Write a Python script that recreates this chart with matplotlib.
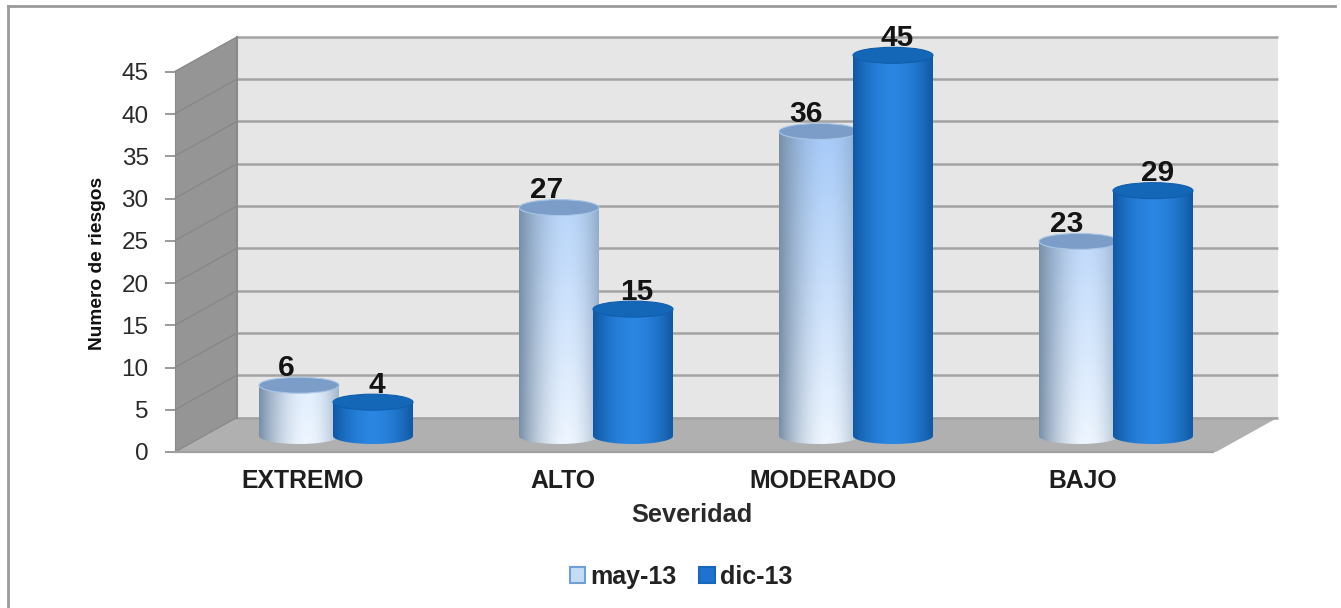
import numpy as np
import matplotlib
matplotlib.use("Agg")
import matplotlib.pyplot as plt
from matplotlib.patches import Polygon, Ellipse, PathPatch, Patch
from matplotlib.lines import Line2D
from matplotlib.path import Path

categories = ["EXTREMO", "ALTO", "MODERADO", "BAJO"]
series_names = ["may-13", "dic-13"]
may_13 = [6, 27, 36, 23]
dic_13 = [4, 15, 45, 29]
y_ticks = [0, 5, 10, 15, 20, 25, 30, 35, 40, 45]

plt.rcParams["font.family"] = ["Liberation Sans", "DejaVu Sans"]
W, H = 1341, 608
PXX, X0 = 260.0, 299.0      # px per category, px of category 0 in bar plane
PXY, Y0 = 8.46, 436.0       # px per unit, px of value 0 in bar plane
fig = plt.figure(figsize=(W / 100, H / 100), dpi=100, facecolor="white")

ax = fig.add_axes([0, 0, 1, 1], zorder=1)
ax.axis("off")
def cx(px): return (px - X0) / PXX
def dy(px): return px / PXY
DX_B, DY_B = 31 / PXX, dy(18.5)   # back wall shift
DX_F, DY_F = -31 / PXX, -dy(16)   # front plane shift
LX, RX = cx(206), cx(1247)        # left / right of the bar plane
TOP = max(y_ticks)
def back(x, v): return (x + DX_B, v + DY_B)
def front(x, v): return (x + DX_F, v + DY_F)

ax.add_patch(Polygon([back(LX, 0), back(RX, 0), back(RX, TOP), back(LX, TOP)],
                     fc="#e6e6e6", ec="none", zorder=1))
ax.add_patch(Polygon([front(LX, 0), back(LX, 0), back(LX, TOP), front(LX, TOP)],
                     fc="#959595", ec="none", zorder=1))
ax.add_patch(Polygon([front(LX, 0), front(RX, 0), back(RX, 0), back(LX, 0)],
                     fc="#b0b0b0", ec="none", zorder=1))
for v in y_ticks:
    bx, by = zip(back(LX, v), back(RX, v))
    ax.plot(bx, by, color="#a3a3a3", lw=1.8, zorder=2, solid_capstyle="butt")
    sx, sy = zip(front(LX, v), back(LX, v))
    ax.plot(sx, sy, color="#858585", lw=0.8, zorder=2)
lx, ly = zip(back(LX, 0), back(LX, TOP))
ax.plot(lx, ly, color="#8a8a8a", lw=1.5, zorder=2)

BW = 80 / PXX
OFFS = [0.0, 74 / PXX]
EH = dy(16)
light_top = np.array([0xa6, 0xca, 0xf8]) / 255
light_bot = np.array([0xee, 0xf6, 0xff]) / 255
light_edge = np.array([0x78, 0x8f, 0xa8]) / 255
dark_mid = np.array([0x2a, 0x86, 0xe2]) / 255
dark_edge = np.array([0x10, 0x58, 0xa4]) / 255
REF_V = 36.0

def cylinder(xc, v, kind, z):
    xl, xr = xc - BW / 2, xc + BW / 2
    t = np.linspace(np.pi, 2 * np.pi, 40)
    arc = np.column_stack([xc + BW / 2 * np.cos(t), EH / 2 * np.sin(t)])
    verts = np.vstack([[(xl, v)], arc, [(xr, v)], [(xl, v)]])
    clip = PathPatch(Path(verts), fc="none", ec="none", transform=ax.transData)
    ax.add_patch(clip)
    grid = np.linspace(-1, 1, 120)
    if kind == 0:
        u = np.where(grid < 0.2, np.abs((grid - 0.2) / 1.2) ** 1.8, ((grid - 0.2) / 0.8) ** 2 * 0.6)
        vv = np.linspace(min(v, REF_V) / REF_V, 0, 80)[:, None]   # 1 = high up
        mid = light_bot + (light_top - light_bot) * vv[:, :, None]
        rgb = mid * (1 - u[None, :, None]) + light_edge * u[None, :, None]
    else:
        u = np.abs(grid) ** 1.8
        rgb = (dark_mid * (1 - u[:, None]) + dark_edge * u[:, None])[None, :, :]
        rgb = np.repeat(rgb, 2, axis=0)
    im = ax.imshow(rgb, extent=[xl, xr, -EH / 2, v], aspect="auto", zorder=z,
                   interpolation="bilinear", origin="upper")
    im.set_clip_path(clip)
    ax.add_patch(Ellipse((xc, v), BW, EH, fc="#7b9dc8" if kind == 0 else "#1466b6",
                         ec="#a9c6e6" if kind == 0 else "#0f5eae", lw=0.8, zorder=z + 0.1))

for i in range(len(categories)):
    for k, vals in enumerate([may_13, dic_13]):
        xc = i + OFFS[k]
        cylinder(xc, vals[i], k, 3 + k)
        ax.annotate(str(vals[i]), (xc, vals[i]),
                    xytext=(-9 if k == 0 else 3, 12.5), textcoords="offset points",
                    ha="center", va="center", fontsize=21.5, fontweight="bold",
                    color="#141414", zorder=6)

ax.set_xlim(cx(0), cx(W))
ax.set_ylim(dy(Y0 - H), dy(Y0))

# Front plane: real axis with ticks and titles
L, R, B, T = 175, 1213, 452, 72
af = fig.add_axes([L / W, 1 - B / H, (R - L) / W, (B - T) / H], zorder=2)
af.patch.set_alpha(0)
af.set_ylim(0, TOP)
af.set_xlim((L - 303) / PXX, (R - 303) / PXX)
for s in ["top", "right"]:
    af.spines[s].set_visible(False)
af.spines["left"].set_color("#8a8a8a")
af.spines["bottom"].set_color("#a0a0a0")
af.spines["bottom"].set_linewidth(1.6)
af.set_yticks(y_ticks)
af.set_xticks(range(len(categories)))
af.set_xticklabels(categories, fontsize=17.8, fontweight="bold", color="#1e1e1e")
af.tick_params(axis="x", length=0, pad=12)
af.tick_params(axis="y", length=7, width=1.2, color="#8a8a8a", labelsize=17.5,
               labelcolor="#2a2a2a", pad=12)
af.set_xlabel("Severidad", fontsize=18.3, fontweight="bold", color="#2a2a2a")
af.xaxis.set_label_coords((692 - L) / (R - L), (B - 503) / (B - T))
af.set_ylabel("Numero de riesgos", fontsize=13.8, fontweight="bold", color="#111111")
af.yaxis.set_label_coords((106 - L) / (R - L), (B - 263) / (B - T))

handles = [Patch(fc="#c4dcf6", ec="#6f9fd4", lw=1.5, label=series_names[0]),
           Patch(fc="#1f73cf", ec="#1a66ba", lw=1.5, label=series_names[1])]
leg = fig.legend(handles=handles, loc="center", bbox_to_anchor=(681 / W, 1 - 577 / H),
                 ncol=2, frameon=False, fontsize=18, handlelength=0.62, handleheight=0.62,
                 handletextpad=0.2, columnspacing=0.9, borderpad=0)
for t in leg.get_texts():
    t.set_fontweight("bold")
    t.set_color("#222222")

# Image frame: only the top and left edges are visible
fig.add_artist(Line2D([8 / W, 8 / W], [0, 1 - 5.5 / H], transform=fig.transFigure,
                      color="#9a9a9a", lw=2))
fig.add_artist(Line2D([8 / W, 1335 / W], [1 - 5.5 / H, 1 - 5.5 / H], transform=fig.transFigure,
                      color="#9a9a9a", lw=2))
fig.savefig("out.png", dpi=100, facecolor="white")
